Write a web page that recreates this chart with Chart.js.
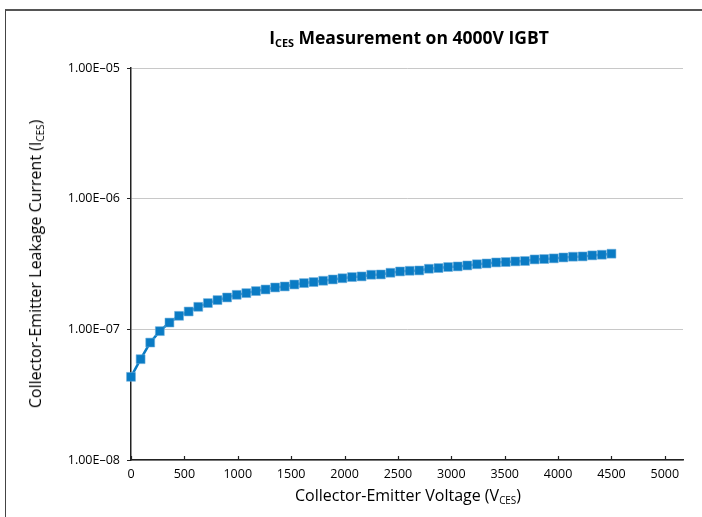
<!DOCTYPE html>
<html><head><meta charset="utf-8">
<script src="https://cdn.jsdelivr.net/npm/chart.js@4"></script>
<style>
html,body{margin:0;padding:0;background:#fff;}
#wrap{position:relative;width:702px;height:517px;overflow:hidden;font-family:"Open Sans",sans-serif;color:#000;}
#frame{position:absolute;left:5px;top:9px;width:760px;height:560px;border-top:2px solid #555;border-left:1px solid #444;box-sizing:border-box;}
#c{position:absolute;left:0;top:0;}
.t{position:absolute;white-space:nowrap;line-height:1;}
.sub{font-size:62%;position:relative;top:0.28em;}
#title{left:409px;top:29px;transform:translateX(-50%);font-weight:bold;font-size:17.5px;}
#xt{left:408px;top:487px;transform:translateX(-50%);font-size:16px;}
#yt{left:35px;top:264px;transform:translate(-50%,-50%) rotate(-90deg);font-size:16px;}
</style></head>
<body><div id="wrap">
<div id="frame"></div>
<canvas id="c" width="702" height="517"></canvas>
<div class="t" id="title">I<span class="sub">CES</span> Measurement on 4000V IGBT</div>
<div class="t" id="xt">Collector-Emitter Voltage (V<span class="sub">CES</span>)</div>
<div class="t" id="yt">Collector-Emitter Leakage Current (I<span class="sub">CES</span>)</div>
</div>
<script>
const voltages = [0,90,180,270,360,450,540,630,720,810,900,990,1080,1170,1260,1350,1440,1530,1620,1710,1800,1890,1980,2070,2160,2250,2340,2430,2520,2610,2700,2790,2880,2970,3060,3150,3240,3330,3420,3510,3600,3690,3780,3870,3960,4050,4140,4230,4320,4410,4500];
const leakage = [4.33e-8,5.91e-8,7.92e-8,9.69e-8,1.127e-7,1.269e-7,1.369e-7,1.487e-7,1.588e-7,1.674e-7,1.753e-7,1.837e-7,1.893e-7,1.962e-7,2.018e-7,2.091e-7,2.128e-7,2.204e-7,2.259e-7,2.300e-7,2.354e-7,2.408e-7,2.460e-7,2.512e-7,2.541e-7,2.617e-7,2.630e-7,2.710e-7,2.773e-7,2.806e-7,2.823e-7,2.909e-7,2.944e-7,2.998e-7,3.029e-7,3.083e-7,3.148e-7,3.192e-7,3.251e-7,3.273e-7,3.311e-7,3.334e-7,3.428e-7,3.451e-7,3.491e-7,3.548e-7,3.597e-7,3.614e-7,3.681e-7,3.724e-7,3.793e-7];
const xTicks = [0,500,1000,1500,2000,2500,3000,3500,4000,4500,5000];
const yTicks = [1e-8,1e-7,1e-6,1e-5];
const yTickLabels = ["1.00E\u201308","1.00E\u201307","1.00E\u201306","1.00E\u201305"];

const pts = voltages.map((v,i)=>({x:v,y:leakage[i]}));
const tickFont = {family:'"Open Sans", sans-serif', size:12.5};

const innerTicks = {
  id:'innerTicks',
  afterDraw(chart){
    const s = chart.scales.x, ctx = chart.ctx, b = chart.chartArea.bottom;
    ctx.save(); ctx.strokeStyle='#222'; ctx.lineWidth=1.2;
    s.ticks.forEach((t,i)=>{
      const px = Math.round(s.getPixelForTick(i))+0.5;
      ctx.beginPath(); ctx.moveTo(px,b); ctx.lineTo(px,b-4); ctx.stroke();
    });
    ctx.restore();
  }
};

new Chart(document.getElementById('c'),{
  type:'line',
  data:{datasets:[{
    data:pts,
    clip:false,
    borderColor:'#0a7bc4',
    borderWidth:2.5,
    pointStyle:'rect',
    pointRadius:6.3,
    pointBackgroundColor:'#0a7bc4',
    pointBorderColor:'rgba(110,175,220,0.55)',
    pointBorderWidth:1,
    tension:0,
    fill:false
  }]},
  options:{
    responsive:false,
    animation:false,
    events:[],
    layout:{padding:{left:0,right:19,top:68,bottom:0}},
    plugins:{legend:{display:false},tooltip:{enabled:false},title:{display:false}},
    scales:{
      x:{
        type:'linear',
        min:0,max:5170,
        afterBuildTicks(s){ s.ticks = xTicks.map(v=>({value:v})); },
        afterFit(s){ s.height = 57; },
        grid:{display:true,drawOnChartArea:false,drawTicks:false},
        border:{display:true,color:'#222',width:1.5},
        ticks:{color:'#000',font:tickFont,padding:7,maxRotation:0,callback:v=>String(v)}
      },
      y:{
        type:'logarithmic',
        min:1e-8,max:1e-5,
        afterBuildTicks(s){ s.ticks = yTicks.map(v=>({value:v})); },
        afterFit(s){ s.width = 131; },
        grid:{color:'#c8c8c8',lineWidth:1,tickLength:4,tickColor:'#222'},
        border:{display:true,color:'#222',width:1.5},
        ticks:{color:'#000',font:tickFont,padding:7,callback:(v)=>{const i=yTicks.findIndex(t=>Math.abs(t-v)/t<1e-6);return i>=0?yTickLabels[i]:'';}}
      }
    }
  },
  plugins:[innerTicks]
});
</script>
</body></html>
